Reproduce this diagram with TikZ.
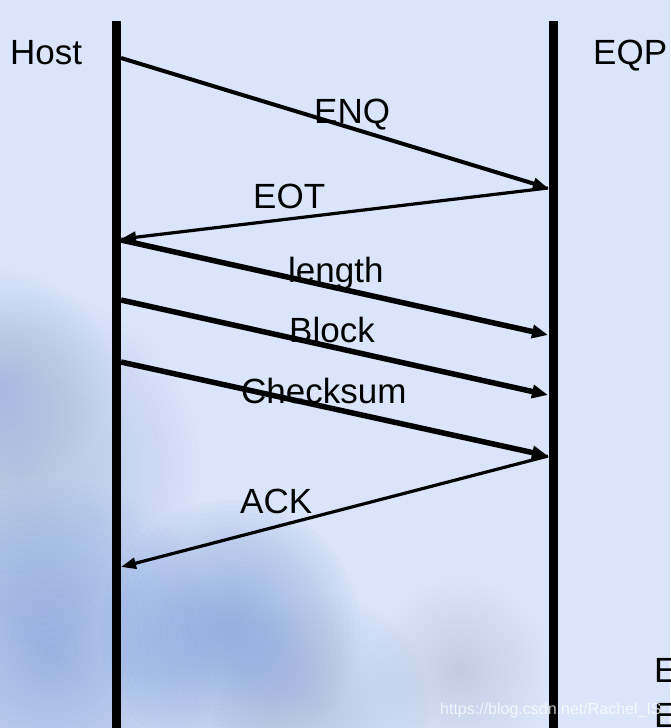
\documentclass[tikz,border=0pt]{standalone}
\usepackage{fontspec}
\setmainfont{Liberation Sans}
\usetikzlibrary{arrows.meta}
\definecolor{bgblue}{RGB}{218,228,250}
\definecolor{cloud}{RGB}{95,135,205}
\definecolor{mist}{RGB}{150,175,225}
\tikzset{
  lbl/.style={font=\fontsize{35}{40}\selectfont, inner sep=0pt, anchor=base west},
  lifeline/.style={line width=9.5pt, line cap=butt},
  thinmsg/.style={line width=3.2pt, -{Triangle[length=15pt,width=11pt]}},
  medmsg/.style={line width=4pt, -{Triangle[length=15pt,width=11pt]}},
  thickmsg/.style={line width=5.5pt, -{Triangle[length=16pt,width=13pt]}},
}
\newcommand\softblob[5]{%
  \foreach \k in {1,...,24}{%
    \fill[#4, opacity=#5] (#1,#2) circle[radius=#3*\k/24*1pt];%
  }%
}
\begin{document}
\begin{tikzpicture}[x=1pt,y=-1pt]
\useasboundingbox (0,0) rectangle (670,728);
\clip (0,0) rectangle (670,728);
\fill[bgblue] (0,0) rectangle (670,728);
% cloudy background texture (bottom left)
\softblob{20}{470}{180}{mist}{0.022}
\softblob{50}{650}{170}{cloud}{0.024}
\softblob{230}{630}{130}{cloud}{0.026}
\softblob{320}{705}{110}{mist}{0.02}
\softblob{460}{670}{90}{mist}{0.012}
\softblob{0}{380}{110}{mist}{0.02}

% lifelines
\coordinate (h0) at (116.5,21);
\coordinate (h1) at (116.5,728);
\coordinate (e0) at (553.5,21);
\coordinate (e1) at (553.5,728);
\draw[lifeline] (h0) -- (h1);
\draw[lifeline] (e0) -- (e1);

% message end points
\coordinate (enqS) at (121,58);
\coordinate (enqE) at (548,188);
\coordinate (eotS) at (548,188);
\coordinate (eotE) at (121,239);
\coordinate (lenS) at (121,240);
\coordinate (lenE) at (548,335);
\coordinate (blkS) at (121,300);
\coordinate (blkE) at (548,395);
\coordinate (ckS) at (121,362);
\coordinate (ckE) at (548,456);
\coordinate (ackS) at (548,456);
\coordinate (ackE) at (121,567);

\draw[medmsg] (enqS) -- (enqE);
\draw[thinmsg] (eotS) -- (eotE);
\draw[thickmsg] (lenS) -- (lenE);
\draw[thickmsg] (blkS) -- (blkE);
\draw[thickmsg] (ckS) -- (ckE);
\draw[thinmsg] (ackS) -- (ackE);

% labels
\node[lbl] (host) at (10,64) {Host};
\node[lbl] (eqp) at (593,64) {EQP};
\node[lbl] (enq) at (314,123) {ENQ};
\node[lbl] (eot) at (253,208) {EOT};
\node[lbl] (len) at (288,282) {length};
\node[lbl] (blk) at (289,342) {Block};
\node[lbl] (ck) at (241,403) {Checksum};
\node[lbl] (ack) at (240,513) {ACK};
\node[lbl] (e1t) at (654,682) {E};
\node[lbl] (e2t) at (654,727) {E};
\node[font=\fontsize{16}{18}\selectfont, text=white, opacity=0.75, inner sep=0pt, anchor=base west] (wm) at (440,714) {https://blog.csdn.net/Rachel\_IS};
\end{tikzpicture}
\end{document}
